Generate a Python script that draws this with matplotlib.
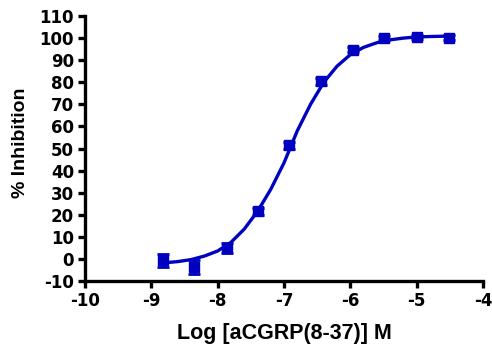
import numpy as np
import matplotlib
matplotlib.use("Agg")
import matplotlib.pyplot as plt

# measured points
log_conc = [-8.82, -8.36, -7.86, -7.39, -6.92, -6.44, -5.96, -5.49, -5.00, -4.52]
inhib = [-0.6, -3.5, 5.0, 21.5, 51.5, 80.4, 94.7, 100.0, 100.6, 100.2]
inhib_err = [3.0, 3.2, 2.4, 1.5, 1.5, 1.5, 1.2, 1.0, 1.0, 1.0]

# fitted curve
fit_x = [-8.82, -8.6, -8.4, -8.2, -8.0, -7.8, -7.6, -7.4, -7.2, -7.0, -6.8,
         -6.6, -6.4, -6.2, -6.0, -5.8, -5.6, -5.4, -5.2, -5.0, -4.8, -4.52]
fit_y = [-1.8, -1.2, -0.3, 1.3, 3.6, 7.5, 13.5, 21.5, 31.5, 43.5, 58.0,
         70.0, 80.0, 87.3, 92.5, 95.8, 97.9, 99.2, 100.0, 100.5, 100.7, 100.9]

xticks = [-10, -9, -8, -7, -6, -5, -4]
yticks = list(range(-10, 111, 10))

blue = '#0000C0'
plt.rcParams['font.family'] = ['DejaVu Sans']
plt.rcParams['font.weight'] = 'bold'

fig = plt.figure(figsize=(4.92, 3.44), dpi=100)
ax = fig.add_axes([0.1728, 0.1831, 0.8089, 0.7704])

ax.plot(fit_x, fit_y, color=blue, lw=2.4, solid_capstyle='round', zorder=2)
ax.errorbar(log_conc, inhib, yerr=inhib_err, fmt='s', color=blue, ms=7.5,
            ecolor=blue, elinewidth=2, capsize=4, capthick=2, zorder=3)

ax.set_xlim(-10, -4)
ax.set_ylim(-10, 110)
ax.set_xticks(xticks)
ax.set_yticks(yticks)
ax.set_xticklabels([str(t) for t in xticks], fontsize=12, fontweight='bold')
ax.set_yticklabels([str(t) for t in yticks], fontsize=12, fontweight='bold')

for s in ['top', 'right']:
    ax.spines[s].set_visible(False)
for s in ['left', 'bottom']:
    ax.spines[s].set_linewidth(2.4)
ax.tick_params(direction='out', length=5, width=2.4, pad=3)

ax.set_xlabel('Log [aCGRP(8-37)] M', fontsize=15.5, fontweight='bold',
              family='Liberation Sans', labelpad=9)
ax.set_ylabel('% Inhibition', fontsize=14, fontweight='bold',
              family='Liberation Sans')
ax.yaxis.set_label_coords(-0.14, 0.52)

fig.savefig('out.png', dpi=100)
